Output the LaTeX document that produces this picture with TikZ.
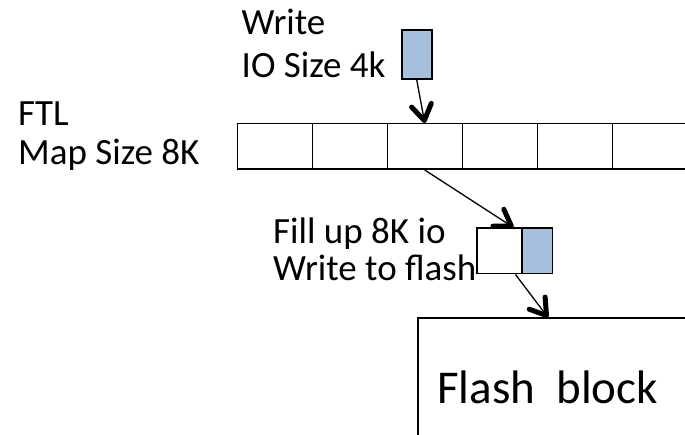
\documentclass[tikz,border=0pt]{standalone}
\usepackage{fontspec}
\setmainfont{Carlito}
\usetikzlibrary{calc}
\definecolor{iofill}{HTML}{A7C0DE}
\begin{document}
\begin{tikzpicture}[x=1pt,y=-1pt,
  boxline/.style={draw=black,line width=1.5pt},
  cellbox/.style={boxline,minimum width=75pt,minimum height=45.5pt,inner sep=0pt,anchor=north west},
  lbl/.style={anchor=base west,inner sep=0pt,font=\fontsize{37}{44}\selectfont},
  bigl/.style={anchor=base west,inner sep=0pt,font=\fontsize{47}{56}\selectfont},
  shaft/.style={line width=1.3pt},
  barb/.style={line width=5pt,line cap=round,line join=round}]
\useasboundingbox (0,0) rectangle (685,435);

% labels
\node[lbl] (tw) at (241.5,35) {Write};
\node[lbl] (ts) at (241.5,77.5) {IO Size 4k};
\node[lbl] (tf) at (18,126) {FTL};
\node[lbl] (tm) at (18,165) {Map Size 8K};
\node[lbl] (tu) at (273,243.5) {Fill up 8K io};
\node[lbl] (tt) at (273,281) {Write to flash};

% incoming 4k write
\node[boxline,fill=iofill,minimum width=30pt,minimum height=49pt,inner sep=0pt,anchor=north west] (io) at (401,29.5) {};

% FTL map row of six 8K entries
\foreach \i in {1,...,6}
  \node[cellbox] (c\i) at ({236.5+75*(\i-1)},123) {};

% 8K buffer: empty half and the 4k data half
\node[cellbox,minimum width=45pt] (pa) at (476,227.5) {};
\node[cellbox,minimum width=30.5pt,fill=iofill] (pb) at (521,227.5) {};

% flash block, running off the page
\node[boxline,minimum width=268pt,minimum height=125pt,inner sep=0pt,anchor=north west] (fb) at (417,317.5) {};
\node[bigl] (tb) at (437,403) {Flash\ \ block};

\coordinate (pin) at ($(pa.north east)+(-9,0)$);
\coordinate (pout) at ($(pa.south east)+(-7,0)$);
\coordinate (fin) at ($(fb.north west)+(131,0)$);

% arrows: thin shaft, heavy open barb built along the shaft direction
\foreach \s/\e in {io.south/c3.north, c3.south/pin, pout/fin} {
  \draw[shaft] (\s) -- (\e);
  \draw[barb] ($(\e)!18pt!(\s)!10pt!90:(\s)$) -- ($(\e)!2.5pt!(\s)$)
              -- ($(\e)!18pt!(\s)!10pt!-90:(\s)$);
}
\end{tikzpicture}
\end{document}
